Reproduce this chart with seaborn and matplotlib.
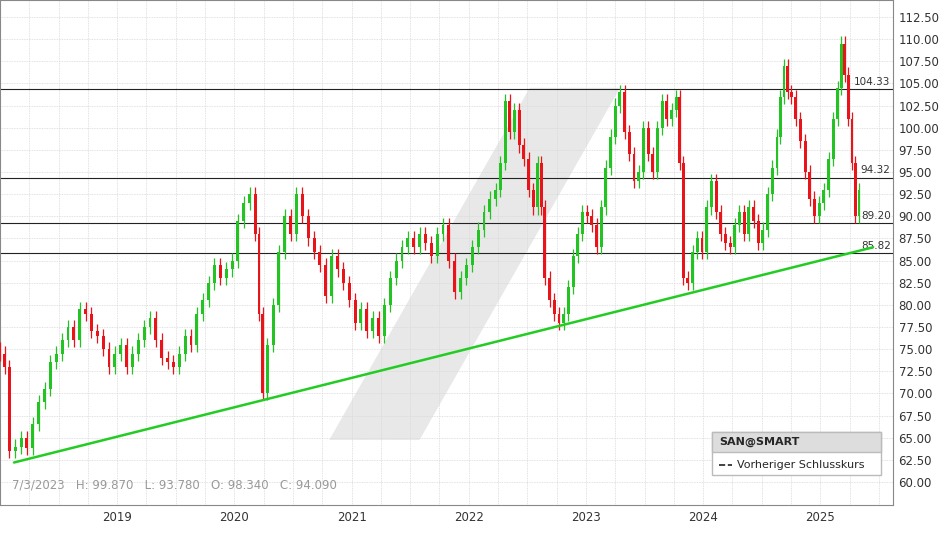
import numpy as np
import matplotlib.pyplot as plt
import seaborn as sns
from matplotlib.patches import Polygon

# approximate period closes (decimal year -> price)
dates = [2018.00, 2018.04, 2018.08, 2018.13, 2018.18, 2018.23, 2018.28, 2018.33, 2018.38, 2018.43,
         2018.48, 2018.53, 2018.58, 2018.63, 2018.68, 2018.73, 2018.78, 2018.83, 2018.88, 2018.93,
         2018.98, 2019.03, 2019.08, 2019.13, 2019.18, 2019.23, 2019.28, 2019.33, 2019.38, 2019.43,
         2019.48, 2019.53, 2019.58, 2019.63, 2019.68, 2019.73, 2019.78, 2019.83, 2019.88, 2019.93,
         2019.98, 2020.03, 2020.08, 2020.13, 2020.18, 2020.21, 2020.24, 2020.28, 2020.33, 2020.38,
         2020.43, 2020.48, 2020.53, 2020.58, 2020.63, 2020.68, 2020.73, 2020.78, 2020.83, 2020.88,
         2020.93, 2020.98, 2021.03, 2021.08, 2021.13, 2021.18, 2021.23, 2021.28, 2021.33, 2021.38,
         2021.43, 2021.48, 2021.53, 2021.58, 2021.63, 2021.68, 2021.73, 2021.78, 2021.83, 2021.88,
         2021.93, 2021.98, 2022.03, 2022.08, 2022.13, 2022.18, 2022.23, 2022.27, 2022.31, 2022.35,
         2022.39, 2022.43, 2022.47, 2022.51, 2022.55, 2022.59, 2022.62, 2022.65, 2022.69, 2022.73,
         2022.77, 2022.81, 2022.85, 2022.89, 2022.93, 2022.97, 2023.01, 2023.05, 2023.09, 2023.13,
         2023.17, 2023.21, 2023.25, 2023.29, 2023.33, 2023.37, 2023.41, 2023.45, 2023.49, 2023.53,
         2023.57, 2023.61, 2023.65, 2023.69, 2023.73, 2023.77, 2023.80, 2023.83, 2023.87, 2023.91,
         2023.95, 2023.99, 2024.03, 2024.07, 2024.11, 2024.15, 2024.19, 2024.23, 2024.27, 2024.31,
         2024.35, 2024.39, 2024.43, 2024.47, 2024.51, 2024.55, 2024.59, 2024.63, 2024.66, 2024.69,
         2024.72, 2024.75, 2024.79, 2024.83, 2024.87, 2024.91, 2024.95, 2024.99, 2025.03, 2025.07,
         2025.11, 2025.15, 2025.18, 2025.21, 2025.24, 2025.27, 2025.30, 2025.33]
closes = [74.5, 73.0, 63.5, 64.0, 65.0, 63.8, 66.5, 69.0, 70.5, 73.5,
          74.5, 76.0, 77.5, 76.0, 79.5, 79.0, 77.0, 76.5, 75.0, 73.0,
          74.5, 75.5, 73.0, 74.5, 76.0, 77.5, 78.5, 76.0, 74.0, 73.5,
          73.0, 74.5, 76.5, 75.5, 79.0, 80.5, 82.5, 84.5, 83.0, 84.0,
          85.0, 89.5, 91.5, 92.5, 88.0, 79.0, 70.0, 75.5, 80.0, 86.0,
          90.0, 88.0, 92.5, 90.0, 87.5, 86.0, 84.5, 81.0, 85.5, 84.0,
          82.5, 80.5, 78.0, 79.5, 77.0, 78.5, 76.5, 80.0, 83.0, 85.0,
          86.5, 87.5, 86.5, 88.0, 87.0, 85.5, 88.0, 89.0, 85.0, 81.5,
          83.0, 84.5, 86.5, 88.5, 90.5, 92.0, 93.0, 96.0, 103.0, 99.5,
          102.0, 98.0, 96.5, 93.0, 91.0, 96.0, 91.0, 83.0, 80.5, 79.0,
          78.0, 79.0, 82.0, 85.5, 88.0, 90.5, 90.0, 89.0, 86.5, 91.0,
          95.5, 99.0, 102.5, 104.0, 99.5, 97.0, 94.0, 95.0, 100.0, 97.0,
          95.0, 100.0, 103.0, 101.0, 102.0, 103.5, 96.0, 83.0, 82.5, 86.0,
          87.5, 86.0, 91.0, 94.0, 90.5, 88.0, 87.0, 86.5, 89.0, 90.5,
          88.0, 91.0, 89.5, 87.0, 88.5, 92.5, 95.5, 99.0, 103.5, 107.0,
          104.0, 103.5, 101.0, 98.5, 95.0, 92.0, 90.0, 91.5, 93.0, 96.5,
          101.0, 104.5, 109.5, 106.0, 101.0, 96.0, 90.0, 93.0]

levels = [104.33, 94.32, 89.20, 85.82]
year_labels = ["2019", "2020", "2021", "2022", "2023", "2024", "2025"]
trend_x = [2018.12, 2025.45]
trend_y = [62.2, 86.5]

sns.set_style("whitegrid")
plt.rcParams['font.family'] = ['DejaVu Sans']

fig = plt.figure(figsize=(9.48, 5.34), dpi=100)
ax = fig.add_axes([0.0, 29 / 534, 893 / 948, 505 / 534])
ax.set_facecolor("white")

# watermark shape
ax.add_patch(Polygon([[2020.81, 64.75], [2021.58, 64.75], [2023.29, 104.5], [2022.52, 104.5]],
                     closed=True, facecolor="#e8e8e8", edgecolor="none", zorder=0))

opens = [closes[0] + 0.5] + closes[:-1]
for d, o, c in zip(dates, opens, closes):
    col = "#22c322" if c >= o else "#e8141a"
    hi = max(o, c) + 0.8
    lo = min(o, c) - 0.8
    ax.vlines(d, lo, hi, color=col, linewidth=0.9, zorder=3)
    ax.bar(d, max(abs(c - o), 0.2), bottom=min(o, c), width=0.025,
           color=col, zorder=3, linewidth=0)

for lv in levels:
    ax.axhline(lv, color="#222222", linewidth=0.8, zorder=2)
    ax.text(2025.6, lv + 0.3, f"{lv:.2f}", ha="right", va="bottom", fontsize=7.5, color="#333333", zorder=4)

ax.plot(trend_x, trend_y, color="#22cc22", linewidth=1.8, zorder=4)

ax.set_xlim(2018.0, 2025.62)
ax.set_ylim(57.4, 114.42)
ax.yaxis.tick_right()
ax.set_yticks(np.arange(60, 112.6, 2.5))
ax.set_yticklabels([f"{v:.2f}" for v in np.arange(60, 112.6, 2.5)], fontsize=8.5, color="#333333")
ax.set_xticks([2019, 2020, 2021, 2022, 2023, 2024, 2025])
ax.set_xticklabels(year_labels, fontsize=8.5, color="#333333")
ax.set_xticks(np.arange(2018.25, 2025.6, 0.25), minor=True)
ax.grid(True, which="both", color="#d8d8d8", linewidth=0.6, linestyle=(0, (1, 1)))
ax.tick_params(length=0, pad=4)
for s in ax.spines.values():
    s.set_color("#888888")
    s.set_linewidth(0.8)

ax.text(2018.1, 59.3, "7/3/2023   H: 99.870   L: 93.780   O: 98.340   C: 94.090",
        fontsize=8.5, color="#999999")

# legend box
lx = ax.transAxes
ax.add_patch(plt.Rectangle((0.797, 0.06), 0.19, 0.085, transform=lx, facecolor="white",
                           edgecolor="#bbbbbb", zorder=5))
ax.add_patch(plt.Rectangle((0.797, 0.105), 0.19, 0.04, transform=lx, facecolor="#dddddd",
                           edgecolor="#bbbbbb", zorder=5))
ax.text(0.805, 0.125, "SAN@SMART", transform=lx, fontsize=8, fontweight="bold", va="center", zorder=6)
ax.plot([0.805, 0.82], [0.08, 0.08], transform=lx, color="#222222", linestyle="--", linewidth=1.2, zorder=6)
ax.text(0.825, 0.08, "Vorheriger Schlusskurs", transform=lx, fontsize=8, va="center", zorder=6)

fig.savefig("out.png", dpi=100)
